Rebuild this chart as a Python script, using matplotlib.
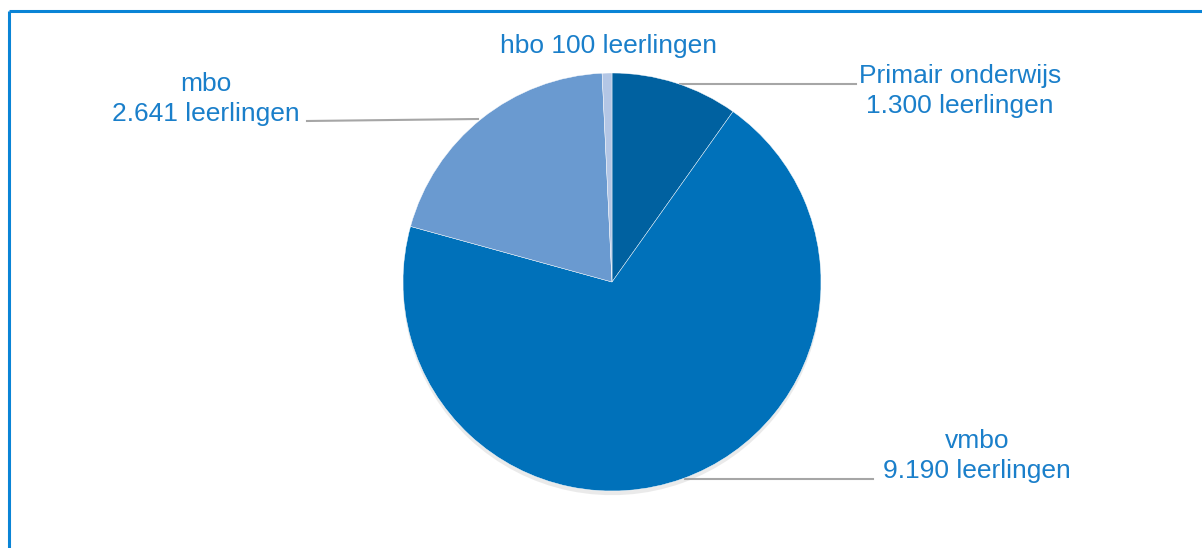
import matplotlib
matplotlib.use("Agg")
import matplotlib.pyplot as plt
import matplotlib.patheffects as pe

# data
categories=["Primair onderwijs","vmbo","mbo","hbo"]
leerlingen=[1300,9190,2641,100]
value_labels=["1.300","9.190","2.641","100"]
colors=["#0061A0","#0071BA","#6A9AD0","#B3C6E5"]

plt.rcParams["font.family"]=["Liberation Sans","DejaVu Sans"]
txt_color="#1A7FCA"
line_color="#A6A6A6"

fig=plt.figure(figsize=(12.02,5.48),dpi=100)
ax=fig.add_axes([0,0,1,1])

wedges,_=ax.pie(leerlingen,colors=colors,startangle=90,counterclock=False,
                center=(612,266),radius=209,
                wedgeprops=dict(linewidth=0.3,edgecolor="white"))
# soft shadow only under the big bottom slice
wedges[1].set_path_effects([pe.SimplePatchShadow(offset=(0,-3),shadow_rgbFace="#999999",alpha=0.2),pe.Normal()])

# pie() resets the limits, so set them afterwards
ax.set_xlim(0,1202)
ax.set_ylim(0,548)
ax.set_aspect("equal")
ax.axis("off")

fs=19
# leader lines
ax.plot([680,856],[464,464],color=line_color,lw=1.5,zorder=0)
ax.plot([307,478],[427,429],color=line_color,lw=1.5,zorder=0)
ax.plot([685,873],[69,69],color=line_color,lw=1.5,zorder=0)

ax.text(608,502,categories[3]+" "+value_labels[3]+" leerlingen",ha="center",va="center",fontsize=fs,color=txt_color)
ax.text(960,457,categories[0]+"\n"+value_labels[0]+" leerlingen",ha="center",va="center",fontsize=fs,color=txt_color,linespacing=1.3)
ax.text(206,449,categories[2]+"\n"+value_labels[2]+" leerlingen",ha="center",va="center",fontsize=fs,color=txt_color,linespacing=1.3)
ax.text(977,92,categories[1]+"\n"+value_labels[1]+" leerlingen",ha="center",va="center",fontsize=fs,color=txt_color,linespacing=1.3)

# frame of the figure box
ax.plot([9,9],[-5,537.5],color="#0A84D6",lw=2.2,clip_on=False,solid_capstyle="butt")
ax.plot([9,1210],[537.5,537.5],color="#0A84D6",lw=2.2,clip_on=False,solid_capstyle="butt")

plt.savefig("out.png",dpi=100)
